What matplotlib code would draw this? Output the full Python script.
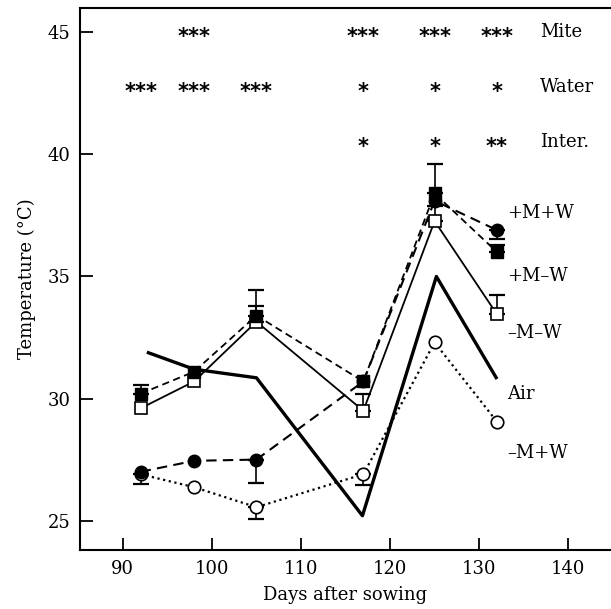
import numpy as np
import matplotlib
matplotlib.use("Agg")
import matplotlib.pyplot as plt

plt.rcParams['font.family'] = ['DejaVu Serif']

days = np.array([92, 98, 105, 117, 125, 132])

# series values (degC)
pmpw = np.array([27.0, 27.45, 27.5, 30.7, 38.1, 36.9])   # +M+W filled circle
pmmw = np.array([30.2, 31.1, 33.4, 30.7, 38.4, 36.0])    # +M-W filled square
mmmw = np.array([29.6, 30.7, 33.15, 29.5, 37.27, 33.45]) # -M-W open square
mmpw = np.array([26.9, 26.37, 25.55, 26.9, 32.3, 29.05]) # -M+W open circle

air_days = np.array([92.7, 98, 105, 116.9, 125.2, 132])
air = np.array([31.9, 31.2, 30.85, 25.2, 35.0, 30.8])

# one-sided error bars (lower, upper)
pmpw_lo = np.array([0, 0, 0.95, 0, 0, 0.35]); pmpw_hi = np.zeros(6)
pmmw_lo = np.zeros(6); pmmw_hi = np.array([0.37, 0, 1.03, 0, 1.2, 0.3])
mmmw_lo = np.zeros(6); mmmw_hi = np.array([0, 0, 0.65, 0.7, 0.62, 0.8])
mmpw_lo = np.array([0.4, 0, 0.5, 0.45, 0, 0]); mmpw_hi = np.zeros(6)

# significance rows
sig_rows = ["Mite", "Water", "Inter."]
sig_y = [45.0, 42.75, 40.5]
sig_marks = [
    {98: "***", 117: "***", 125: "***", 132: "***"},
    {92: "***", 98: "***", 105: "***", 117: "*", 125: "*", 132: "*"},
    {117: "*", 125: "*", 132: "**"},
]

series_labels = ["+M+W", "+M\u2013W", "\u2013M\u2013W", "Air", "\u2013M+W"]
label_y = [37.6, 35.0, 32.7, 30.2, 27.75]

fig = plt.figure(figsize=(6.11, 6.09), dpi=100)
ax = fig.add_axes([0.131, 0.097, 0.869, 0.89])

def eb(y, lo, hi):
    m = (lo > 0) | (hi > 0)
    ax.errorbar(days[m], y[m], yerr=[lo[m], hi[m]], fmt='none', ecolor='black',
                elinewidth=1.2, capsize=6, capthick=1.6, zorder=2)

eb(pmpw, pmpw_lo, pmpw_hi)
eb(pmmw, pmmw_lo, pmmw_hi)
eb(mmmw, mmmw_lo, mmmw_hi)
eb(mmpw, mmpw_lo, mmpw_hi)

ax.plot(air_days, air, color='black', lw=2.4, zorder=3, solid_capstyle='butt')
ax.plot(days, mmpw, color='black', lw=1.6, linestyle=(0, (1, 1.6)), marker='o',
        ms=9, mfc='white', mec='black', mew=1.2, zorder=4)
ax.plot(days, mmmw, color='black', lw=1.3, linestyle='-', marker='s',
        ms=8.5, mfc='white', mec='black', mew=1.2, zorder=4)
ax.plot(days, pmpw, color='black', lw=1.5, linestyle=(0, (5, 3)), marker='o',
        ms=9, mfc='black', mec='black', zorder=5)
ax.plot(days, pmmw, color='black', lw=1.3, linestyle=(0, (4, 2.5)), marker='s',
        ms=8.5, mfc='black', mec='black', zorder=5)

for row, yv, marks in zip(sig_rows, sig_y, sig_marks):
    for d, s in marks.items():
        ax.text(d, yv - 0.18, s, ha='center', va='center', fontsize=15,
                family=['DejaVu Sans'], fontweight='bold')
    ax.text(136.8, yv, row, ha='left', va='center', fontsize=13)

for lab, yv in zip(series_labels, label_y):
    ax.text(133.1, yv, lab, ha='left', va='center', fontsize=13)

ax.set_xlim(85.2, 144.8)
ax.set_ylim(23.8, 46.0)
ax.set_xticks([90, 100, 110, 120, 130, 140])
ax.set_yticks([25, 30, 35, 40, 45])
ax.tick_params(direction='in', length=9, width=1.3, labelsize=13, pad=7)
for s in ['left', 'bottom', 'top']:
    ax.spines[s].set_linewidth(1.5)
ax.spines['right'].set_visible(False)
ax.set_xlabel("Days after sowing", fontsize=13, labelpad=6)
ax.set_ylabel("Temperature (\u00b0C)", fontsize=13, labelpad=8)

fig.savefig("out.png", dpi=100)
